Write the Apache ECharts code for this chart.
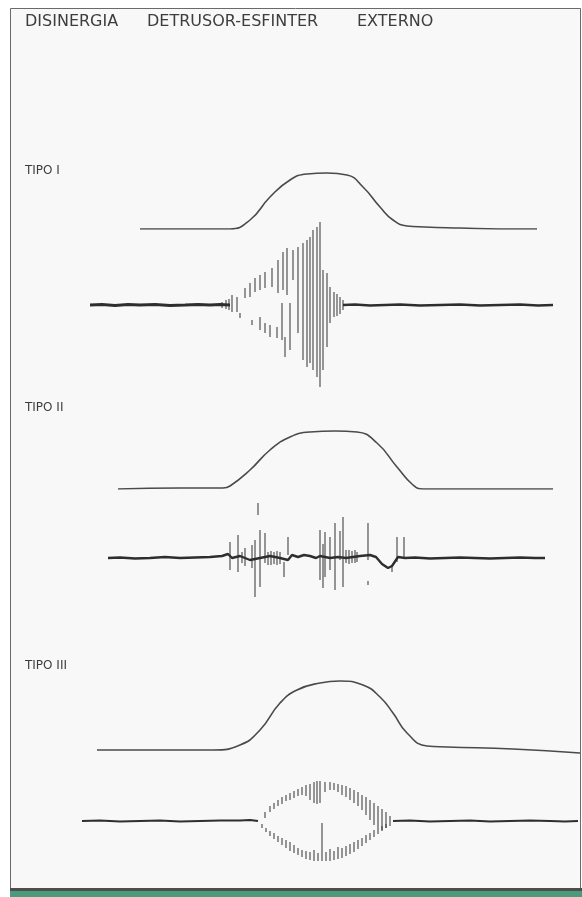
<!DOCTYPE html>
<html>
<head>
<meta charset="utf-8">
<script src="https://cdn.jsdelivr.net/npm/echarts@6/dist/echarts.min.js"></script>
<style>
  html, body { margin: 0; padding: 0; background: #fff; }
  #main { width: 582px; height: 897px; }
</style>
</head>
<body>
<div id="main"></div>
<script>
// time axis: arbitrary units 0..500, amplitude in arbitrary units (0 = trace baseline)
var titleWords = ["DISINERGIA", "DETRUSOR-ESFINTER", "EXTERNO"];
var panelLabels = ["TIPO I", "TIPO II", "TIPO III"];

// detrusor pressure curves [t, value]
var pres1 = [[60,0],[150,0],[170,9],[190,32],[210,49],[227,55],[247,56],[267,54],[283,42],[300,22],[313,9],[327,3],[345,2],[380,1],[420,0],[457,0]];
var pres2 = [[38,0],[100,1],[143,1],[150,3],[170,19],[190,39],[210,52],[230,57],[255,58],[277,57],[297,46],[317,22],[333,4],[343,0],[473,0]];
var pres3 = [[17,0],[133,0],[160,5],[180,20],[200,47],[217,60],[240,67],[260,69],[283,65],[300,53],[313,37],[327,17],[347,4],[367,3],[433,1],[500,-3]];

// EMG baseline traces [t, value]
var emg1Left = [[10,0],[22,0.5],[35,-0.5],[48,0.5],[60,0],[75,0.5],[90,-0.5],[105,0],[118,0.5],[130,0],[140,0.5],[150,0]];
var emg1Right = [[263,0],[275,0.5],[290,-0.5],[305,0],[320,0.5],[340,-0.5],[360,0],[380,0.5],[400,-0.5],[420,0],[440,0.5],[458,-0.5],[473,0]];
var emg2Trace = [[28,0],[40,0.5],[55,-0.5],[70,0],[85,1],[100,0],[115,0.5],[130,1],[142,2],[148,4],[152,0],[160,2],[170,-2],[180,0],[190,2],[200,0],[208,-2],[212,3],[218,1],[224,3],[230,2],[236,0],[240,2],[250,0],[258,1],[266,0],[280,2],[290,3],[296,1],[302,-6],[308,-10],[312,-8],[318,1],[325,0],[335,0.5],[350,-0.5],[365,0],[380,0.5],[395,0],[410,-0.5],[425,0],[440,0.5],[455,0],[465,0]];
var emg3Left = [[2,0],[20,0.5],[40,-0.5],[60,0],[80,0.5],[100,-0.5],[120,0],[140,0.5],[160,0.5],[170,1],[178,0]];
var emg3Right = [[313,0],[330,0.5],[350,-0.5],[370,0],[390,0.5],[410,-0.5],[430,0],[450,0.5],[470,0],[485,-0.5],[498,0]];

// EMG spikes [t, high, low]
var emg1Spikes = [[142,3,-3],[146,5,-4],[149,6,-5],[152,10,-7],[157,8,-7],[160,-8,-13],[165,17,7],[170,22,8],[172,-15,-20],[175,27,13],[180,30,15],[180,-12,-25],[185,33,17],[185,-18,-28],[190,-20,-32],[192,37,18],[197,-22,-33],[198,45,12],[202,2,-35],[203,53,15],[205,-32,-52],[207,57,10],[210,2,-45],[213,55,25],[218,58,-28],[223,62,-55],[227,65,-62],[230,68,-58],[233,75,-65],[237,78,-72],[240,83,-82],[243,35,-65],[247,32,-42],[250,18,-18],[254,13,-12],[257,11,-11],[260,8,-9],[263,5,-5]];
var emg2Spikes = [[150,16,-12],[158,23,-14],[162,6,-5],[165,10,-8],[172,13,-10],[175,18,-39],[178,55,43],[180,28,-29],[185,25,-5],[188,6,-7],[191,7,-7],[194,6,-6],[197,7,-7],[200,6,-6],[204,-4,-19],[208,21,3],[240,28,-22],[243,14,-30],[245,26,-19],[250,21,-12],[255,35,-32],[260,27,-2],[263,41,-29],[266,8,-5],[269,8,-6],[272,7,-5],[275,8,-5],[277,6,-4],[288,35,-2],[288,-23,-27],[312,-7,-14],[317,21,-4],[324,21,1]];
var emg3Spikes = [[185,9,3],[190,15,9],[194,18,12],[198,21,15],[202,24,17],[206,26,20],[210,28,21],[214,30,23],[218,32,25],[222,34,26],[226,36,25],[230,37,21],[234,39,18],[237,40,17],[240,40,18],[245,39,29],[250,39,31],[254,38,31],[258,37,29],[262,36,26],[266,35,24],[270,33,21],[274,31,18],[278,29,15],[282,26,11],[286,24,6],[290,21,1],[294,18,-4],[298,15,-7],[302,12,-9],[306,9,-7],[310,5,-5],
  [182,-3,-7],[186,-7,-11],[190,-10,-15],[194,-12,-18],[198,-15,-21],[202,-17,-24],[206,-19,-27],[210,-21,-30],[214,-24,-32],[218,-27,-34],[222,-29,-36],[226,-30,-38],[230,-31,-39],[234,-29,-40],[238,-32,-40],[242,-2,-40],[246,-31,-40],[250,-28,-40],[254,-30,-39],[258,-26,-38],[262,-27,-37],[266,-25,-35],[270,-23,-33],[274,-21,-31],[278,-19,-28],[282,-17,-25],[286,-14,-22],[290,-12,-19],[294,-9,-16],[298,-7,-13],[302,-5,-10],[306,-3,-7]];

var chart = echarts.init(document.getElementById("main"));

// grids: pressure 1, emg 1, pressure 2, emg 2, pressure 3, emg 3
var gridBoxes = [
  { top: 169, height: 60 },
  { top: 205, height: 200 },
  { top: 429, height: 60 },
  { top: 458, height: 200 },
  { top: 670, height: 90 },
  { top: 721, height: 200 }
];
var yRanges = [[0, 60], [-100, 100], [0, 60], [-100, 100], [-10, 80], [-100, 100]];

function pressureLine(data, gi) {
  return {
    type: "line", xAxisIndex: gi, yAxisIndex: gi, data: data,
    smooth: 0.5, symbol: "none", silent: true,
    lineStyle: { color: "#4a4a4a", width: 1.6 }
  };
}
function emgLine(data, gi, w) {
  return {
    type: "line", xAxisIndex: gi, yAxisIndex: gi, data: data,
    symbol: "none", silent: true,
    lineStyle: { color: "#2e2e2e", width: w }
  };
}
function spikeSeries(data, gi) {
  return {
    type: "custom", xAxisIndex: gi, yAxisIndex: gi, data: data, silent: true,
    encode: { x: 0, y: [1, 2] },
    renderItem: function (params, api) {
      var a = api.coord([api.value(0), api.value(1)]);
      var b = api.coord([api.value(0), api.value(2)]);
      return {
        type: "line",
        shape: { x1: a[0], y1: a[1], x2: b[0], y2: b[1] },
        style: { stroke: "#444444", lineWidth: 1.3, opacity: 0.85 }
      };
    }
  };
}

var wordLeft = [25, 147, 357];
var labelTop = [165, 402, 660];
var titles = [];
titleWords.forEach(function (w, i) {
  titles.push({
    text: w, left: wordLeft[i], top: 14, padding: 0,
    textStyle: { fontFamily: "DejaVu Sans", fontSize: 16, fontWeight: "normal", color: "#3d3d3d" }
  });
});
panelLabels.forEach(function (w, i) {
  titles.push({
    text: w, left: 25, top: labelTop[i], padding: 0,
    textStyle: { fontFamily: "DejaVu Sans", fontSize: 12, fontWeight: "normal", color: "#3d3d3d" }
  });
});

var option = {
  animation: false,
  backgroundColor: "#ffffff",
  title: titles,
  graphic: [
    { type: "rect", z: -10, shape: { x: 10.5, y: 8.5, width: 570, height: 881 }, style: { fill: "#f8f8f8", stroke: "#6a6a6a", lineWidth: 1 } },
    { type: "rect", z: -9, shape: { x: 10, y: 888, width: 572, height: 3 }, style: { fill: "#4e4e4e" } },
    { type: "rect", z: -9, shape: { x: 10, y: 891, width: 572, height: 6 }, style: { fill: "#4a9a7b" } }
  ],
  grid: gridBoxes.map(function (g) {
    return { left: 80, width: 500, top: g.top, height: g.height, outerBoundsMode: "none", show: false };
  }),
  xAxis: gridBoxes.map(function (g, i) {
    return { type: "value", gridIndex: i, min: 0, max: 500, show: false };
  }),
  yAxis: yRanges.map(function (r, i) {
    return { type: "value", gridIndex: i, min: r[0], max: r[1], show: false };
  }),
  series: [
    pressureLine(pres1, 0),
    emgLine(emg1Left, 1, 2.8),
    emgLine(emg1Right, 1, 2.6),
    spikeSeries(emg1Spikes, 1),
    pressureLine(pres2, 2),
    emgLine(emg2Trace, 3, 2.4),
    spikeSeries(emg2Spikes, 3),
    pressureLine(pres3, 4),
    emgLine(emg3Left, 5, 2.2),
    emgLine(emg3Right, 5, 2.2),
    spikeSeries(emg3Spikes, 5)
  ]
};

chart.setOption(option);
</script>
</body>
</html>
